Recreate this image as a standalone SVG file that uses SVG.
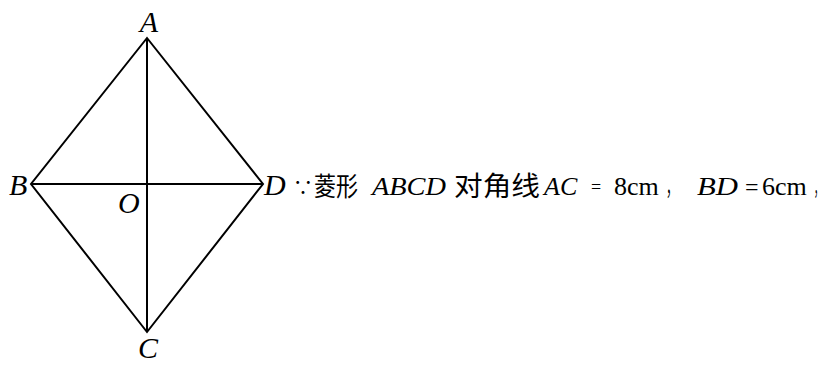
<svg xmlns="http://www.w3.org/2000/svg" width="828" height="365" viewBox="0 0 828 365">
<style>
.l{fill:none;stroke:#000;stroke-width:2;stroke-linejoin:miter}
.v{font-family:'Liberation Serif','Times New Roman',serif;font-style:italic;font-size:30px;fill:#000}
.t{font-family:'Liberation Serif','Times New Roman','Noto Sans CJK SC',serif;font-size:26px;fill:#000}
.c{font-family:'Noto Sans CJK SC',sans-serif;font-size:25px;fill:#000}
.i{font-style:italic}
</style>
<rect width="828" height="365" fill="#fff"/>
<g id="edges">
<polygon class="l" points="147,38 263,184 147,332 31,184"/>
<line class="l" x1="147" y1="38" x2="147" y2="332"/>
<line class="l" x1="31" y1="184" x2="263" y2="184"/>
</g>
<g id="labels">
<text class="v" x="149" y="32" text-anchor="middle">A</text>
<text class="v" x="9" y="195">B</text>
<text class="v" x="264" y="195">D</text>
<text class="v" x="118" y="213">O</text>
<text class="v" x="148" y="358" text-anchor="middle">C</text>
</g>
<g id="text">
<text class="c" x="293" y="195" style="font-size:20px">∵</text>
<text class="c" x="314" y="196" textLength="44" lengthAdjust="spacingAndGlyphs" style="font-size:26px">菱形</text>
<text class="t i" x="372" y="195" textLength="74" lengthAdjust="spacingAndGlyphs">ABCD</text>
<text class="c" x="454" y="196" textLength="86" lengthAdjust="spacingAndGlyphs" style="font-size:27px">对角线</text>
<text class="t i" x="544" y="195">AC</text>
<text class="t" x="591" y="193" style="font-size:18px">=</text>
<text class="t" x="614" y="195">8cm</text>
<text class="c" x="666" y="195" textLength="12" lengthAdjust="spacingAndGlyphs">，</text>
<text class="t i" x="697" y="195" textLength="41" lengthAdjust="spacingAndGlyphs">BD</text>
<text class="t" x="745" y="195" style="font-size:24px">=</text>
<text class="t" x="762" y="195">6cm</text>
<text class="c" x="814" y="195" textLength="9" lengthAdjust="spacingAndGlyphs" style="font-size:22px">，</text>
</g>
</svg>
